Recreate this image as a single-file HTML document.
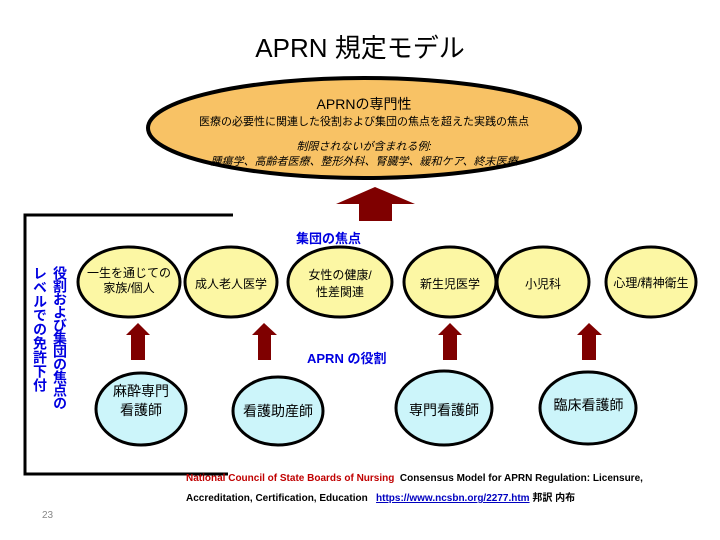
<!DOCTYPE html>
<html><head><meta charset="utf-8"><style>
body{margin:0;width:720px;height:540px;background:#fff;overflow:hidden;position:relative;font-family:"Liberation Sans","Noto Sans CJK JP",sans-serif}
.t{position:absolute;white-space:nowrap}
</style></head><body>
<svg width="720" height="540" style="position:absolute;left:0;top:0">
<ellipse cx="364" cy="128" rx="216" ry="50" fill="#f8c265" stroke="#000" stroke-width="4"/>
<polygon points="336,204 375,187 415,204 392,204 392,221 359,221 359,204" fill="#7f0000"/>
<polyline points="233,215 25,215 25,474 228,474" fill="none" stroke="#000" stroke-width="3"/>
<g fill="#fcf7a4" stroke="#000" stroke-width="3">
<ellipse cx="129" cy="282" rx="51" ry="35"/>
<ellipse cx="231" cy="282" rx="46" ry="35"/>
<ellipse cx="340" cy="282" rx="52" ry="35"/>
<ellipse cx="450" cy="282" rx="46" ry="35"/>
<ellipse cx="543" cy="282" rx="46" ry="35"/>
<ellipse cx="651" cy="282" rx="45" ry="35"/>
</g>
<g fill="#7f0000">
<polygon points="126,335 138,323 150,335 145,335 145,360 131,360 131,335"/>
<polygon points="252,335 264,323 277,335 271,335 271,360 258,360 258,335"/>
<polygon points="438,335 450,323 462,335 457,335 457,360 443,360 443,335"/>
<polygon points="577,335 589,323 602,335 596,335 596,360 582,360 582,335"/>
</g>
<g fill="#ccf5fa" stroke="#000" stroke-width="3">
<ellipse cx="141" cy="409" rx="45" ry="36"/>
<ellipse cx="278" cy="411" rx="45" ry="34"/>
<ellipse cx="444" cy="408" rx="48" ry="37"/>
<ellipse cx="588" cy="408" rx="48" ry="36"/>
</g>
</svg>
<div class="t" style="left:0;width:720px;text-align:center;top:28px;font-size:26px">APRN 規定モデル</div>
<div class="t" style="left:0;width:728px;text-align:center;top:94px;font-size:14px">APRNの専門性</div>
<div class="t" style="left:0;width:728px;text-align:center;top:113px;font-size:11px">医療の必要性に関連した役割および集団の焦点を超えた実践の焦点</div>
<div class="t" style="left:0;width:728px;text-align:center;top:138px;font-size:11px;font-style:italic">制限されないが含まれる例:</div>
<div class="t" style="left:0;width:728px;text-align:center;top:153px;font-size:11px;font-style:italic">腫瘍学、高齢者医療、整形外科、腎臓学、緩和ケア、終末医療</div>
<div class="t" style="left:296px;top:228px;font-size:13px;font-weight:bold;color:#0000e0">集団の焦点</div>
<div class="t" style="left:307px;top:348px;font-size:13px;font-weight:bold;color:#0000e0">APRN の役割</div>
<div class="t" style="left:52px;top:266px;font-size:14px;font-weight:bold;color:#0000e0;writing-mode:vertical-rl;line-height:16px;letter-spacing:-1px">役割および集団の焦点の</div>
<div class="t" style="left:32px;top:266px;font-size:14px;font-weight:bold;color:#0000e0;writing-mode:vertical-rl;line-height:16px">レベルでの免許下付</div>
<div class="t" style="left:78px;width:102px;text-align:center;top:266px;font-size:12px;line-height:15px">一生を通じての<br>家族/個人</div>
<div class="t" style="left:185px;width:92px;text-align:center;top:275px;font-size:12px">成人老人医学</div>
<div class="t" style="left:288px;width:104px;text-align:center;top:267px;font-size:12px;line-height:17px">女性の健康/<br>性差関連</div>
<div class="t" style="left:404px;width:92px;text-align:center;top:275px;font-size:12px">新生児医学</div>
<div class="t" style="left:497px;width:92px;text-align:center;top:275px;font-size:12px">小児科</div>
<div class="t" style="left:606px;width:90px;text-align:center;top:274px;font-size:12px">心理/精神衛生</div>
<div class="t" style="left:96px;width:90px;text-align:center;top:382px;font-size:14px;line-height:19px">麻酔専門<br>看護師</div>
<div class="t" style="left:232px;width:92px;text-align:center;top:401px;font-size:14px">看護助産師</div>
<div class="t" style="left:396px;width:96px;text-align:center;top:400px;font-size:14px">専門看護師</div>
<div class="t" style="left:540px;width:97px;text-align:center;top:395px;font-size:14px">臨床看護師</div>
<div class="t" style="left:186px;top:473px;font-size:10px;font-weight:bold"><span style="color:#c00000">National Council of State Boards of Nursing</span>&nbsp; Consensus Model for APRN Regulation: Licensure,</div>
<div class="t" style="left:186px;top:489px;font-size:10px;font-weight:bold">Accreditation, Certification, Education &nbsp;&nbsp;<span style="color:#0000c0;text-decoration:underline">https://www.ncsbn.org/2277.htm</span> 邦訳 内布</div>
<div class="t" style="left:42px;top:510px;font-size:10px;color:#888">23</div>
</body></html>
